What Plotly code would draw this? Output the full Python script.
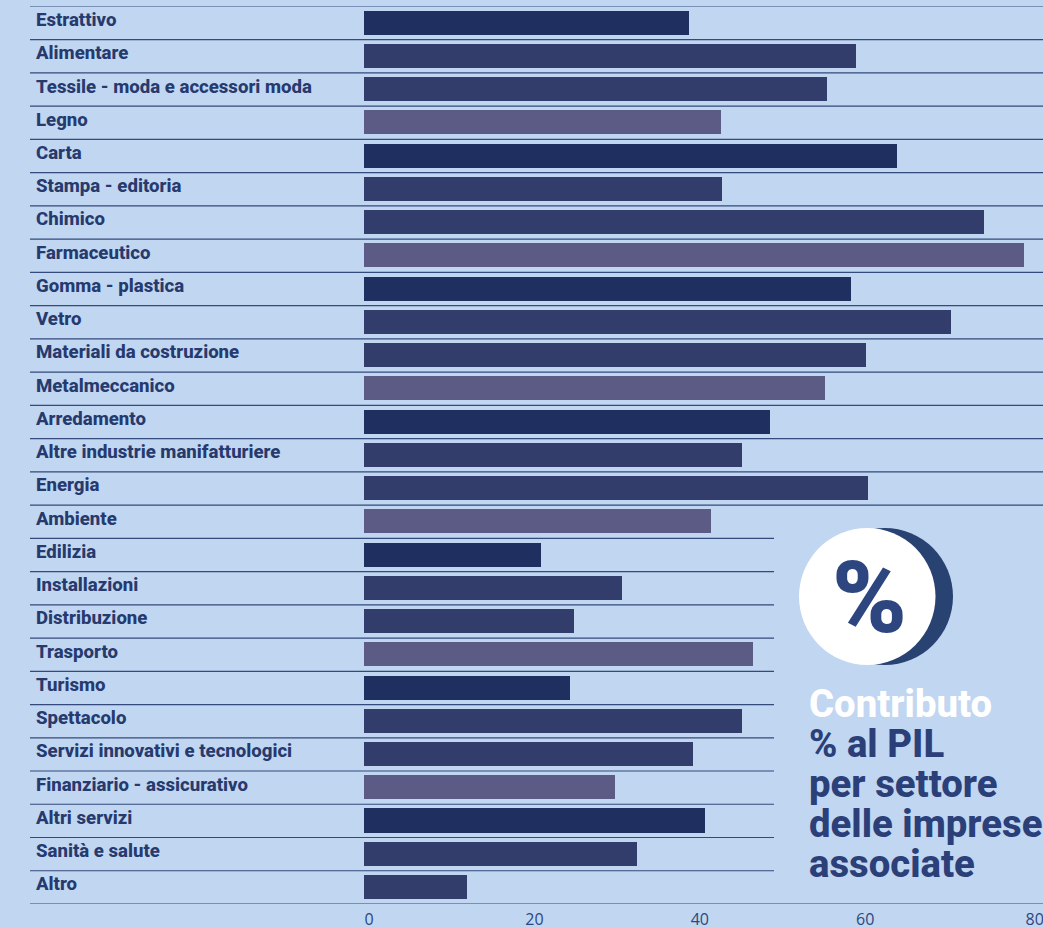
import plotly.graph_objects as go

categories = ["Estrattivo", "Alimentare", "Tessile - moda e accessori moda", "Legno", "Carta",
              "Stampa - editoria", "Chimico", "Farmaceutico", "Gomma - plastica", "Vetro",
              "Materiali da costruzione", "Metalmeccanico", "Arredamento",
              "Altre industrie manifatturiere", "Energia", "Ambiente", "Edilizia", "Installazioni",
              "Distribuzione", "Trasporto", "Turismo", "Spettacolo",
              "Servizi innovativi e tecnologici", "Finanziario - assicurativo", "Altri servizi",
              "Sanità e salute", "Altro"]
values = [39.3, 59.5, 56.0, 43.2, 64.5, 43.3, 75.0, 79.8, 58.9, 71.0, 60.7, 55.8, 49.1, 45.7,
          60.9, 42.0, 21.4, 31.2, 25.4, 47.0, 24.9, 45.7, 39.8, 30.4, 41.2, 33.0, 12.4]
x_ticks = [0, 20, 40, 60, 80]
x_tick_labels = ["0", "20", "40", "60", "\u00a0\u00a080"]
title_lines = ["Contributo", "% al PIL", "per settore", "delle imprese", "associate"]
palette = ["#1f3060", "#333d6b", "#333d6b", "#5b5b85"]

W, H = 1043, 928
BG = "#c1d6f1"
NAVY = "#263a6e"
px = lambda v: v / W
py = lambda v: 1 - v / H
PLOT_L, PLOT_T, PLOT_B = 364, 6.4, 904
SCALE = 8.27

fig = go.Figure(go.Bar(
    y=list(range(len(categories))), x=values, orientation="h", width=0.7225,
    marker=dict(color=[palette[i % 4] for i in range(len(values))], line_width=0),
    customdata=categories, hovertemplate="%{customdata}: %{x}<extra></extra>",
))

shapes = []
for k in range(len(categories) + 1):
    long_line = k <= 15 or k == len(categories)
    shapes.append(dict(type="line", xref="paper", yref="y", x0=px(30), x1=px(1043 if long_line else 774),
                       y0=k - 0.5, y1=k - 0.5, line=dict(color="#34497c", width=1.2), layer="below"))
shapes.append(dict(type="circle", xref="paper", yref="paper", x0=px(816.5), x1=px(953), y0=py(665), y1=py(528),
                   fillcolor="#284272", line_width=0))
shapes.append(dict(type="circle", xref="paper", yref="paper", x0=px(799), x1=px(935.5), y0=py(665), y1=py(528),
                   fillcolor="#ffffff", line_width=0))

ann = [dict(xref="paper", yref="y", x=px(34), y=i, yshift=3, text=c, showarrow=False, xanchor="left",
            yanchor="middle", font=dict(family="Roboto", size=18.6, weight=800, color=NAVY))
       for i, c in enumerate(categories)]
ann.append(dict(xref="paper", yref="paper", x=px(869.5), y=py(597.5), text="%", showarrow=False,
                xanchor="center", yanchor="middle",
                font=dict(family="Roboto", size=101, weight=900, color="#2d4680")))
for i, t in enumerate(title_lines):
    ann.append(dict(xref="paper", yref="paper", x=px(807), y=py(703 + i * 40.2), text=t, showarrow=False,
                    xanchor="left", yanchor="middle",
                    font=dict(family="Roboto", size=38.3, weight=800, color="#ffffff" if i == 0 else "#2b3f78")))

fig.update_layout(
    width=W, height=H, margin=dict(l=0, r=0, t=0, b=0), paper_bgcolor=BG, plot_bgcolor=BG,
    showlegend=False, shapes=shapes, annotations=ann, bargap=0,
    xaxis=dict(domain=[px(PLOT_L), 1], range=[0, (W - PLOT_L) / SCALE], tickvals=x_ticks, ticktext=x_tick_labels,
               showgrid=False, zeroline=False, showline=False, ticks="", ticklabelshift=5, automargin=False,
               ticklabeloverflow="allow", ticklabelstandoff=4,
               tickfont=dict(family="Open Sans", size=16, color="#2d4680"), anchor="y"),
    yaxis=dict(domain=[py(PLOT_B), py(PLOT_T)], range=[len(categories) - 0.5, -0.5], showticklabels=False,
               automargin=False, showgrid=False, zeroline=False, showline=False, ticks=""),
)
fig.write_html("out.html", config={"displayModeBar": False},
               post_script="document.body.style.margin='0';document.documentElement.style.overflow='hidden';"
                           "document.body.style.overflow='hidden';")
